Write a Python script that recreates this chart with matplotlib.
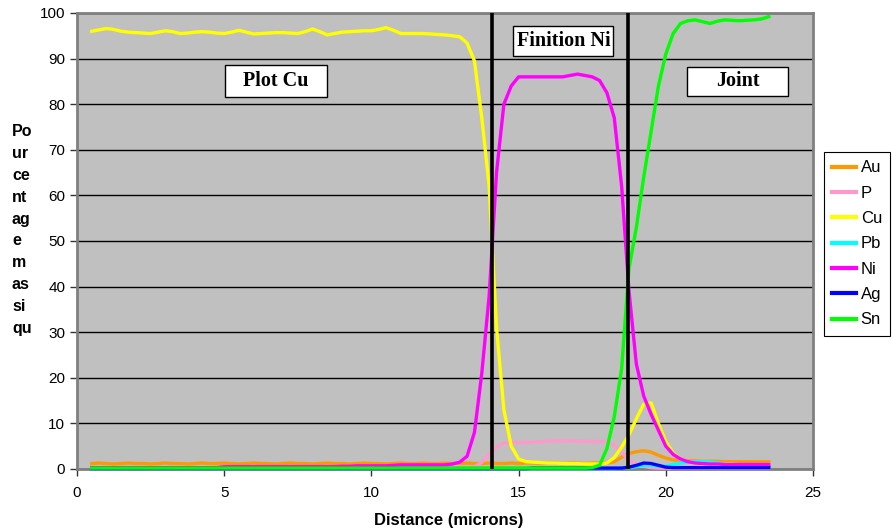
import matplotlib
matplotlib.use('Agg')
import matplotlib.pyplot as plt
from matplotlib.patches import Rectangle

plt.rcParams['font.family'] = ['Liberation Sans', 'DejaVu Sans']

# profil EDX le long de la coupe (distance en microns)
distance = [0.5, 0.75, 1.0, 1.25, 1.5, 1.75, 2.0, 2.25, 2.5, 2.75, 3.0, 3.25,
            3.5, 3.75, 4.0, 4.25, 4.5, 4.75, 5.0, 5.25, 5.5, 5.75, 6.0, 6.25,
            6.5, 6.75, 7.0, 7.25, 7.5, 7.75, 8.0, 8.25, 8.5, 8.75, 9.0, 9.25,
            9.5, 9.75, 10.0, 10.25, 10.5, 10.75, 11.0, 11.25, 11.5, 11.75, 12.0, 12.25,
            12.5, 12.75, 13.0, 13.25, 13.5, 13.75, 14.0, 14.25, 14.5, 14.75, 15.0, 15.25,
            15.5, 15.75, 16.0, 16.25, 16.5, 16.75, 17.0, 17.25, 17.5, 17.75, 18.0, 18.25,
            18.5, 18.75, 19.0, 19.25, 19.5, 19.75, 20.0, 20.25, 20.5, 20.75, 21.0, 21.25,
            21.5, 21.75, 22.0, 22.25, 22.5, 22.75, 23.0, 23.25, 23.5]

au = [1.2, 1.3, 1.2, 1.1, 1.2, 1.3, 1.2, 1.2, 1.1, 1.2, 1.3, 1.2,
      1.2, 1.1, 1.2, 1.3, 1.2, 1.2, 1.3, 1.2, 1.1, 1.2, 1.3, 1.2,
      1.2, 1.1, 1.2, 1.3, 1.2, 1.2, 1.1, 1.2, 1.3, 1.2, 1.2, 1.1,
      1.2, 1.3, 1.2, 1.2, 1.1, 1.2, 1.3, 1.2, 1.2, 1.3, 1.2, 1.2,
      1.3, 1.2, 1.2, 1.3, 1.2, 1.2, 1.3, 1.2, 1.2, 1.3, 1.2, 1.3,
      1.3, 1.2, 1.3, 1.3, 1.2, 1.3, 1.3, 1.2, 1.3, 1.3, 1.3, 1.6,
      2.6, 3.4, 3.8, 4.0, 3.7, 3.0, 2.4, 2.0, 1.9, 1.8, 1.8, 1.7,
      1.7, 1.7, 1.6, 1.6, 1.6, 1.6, 1.6, 1.6, 1.6]

p = [0.1, 0.1, 0.1, 0.1, 0.1, 0.1, 0.1, 0.1, 0.1, 0.1, 0.1, 0.1,
     0.1, 0.1, 0.1, 0.1, 0.1, 0.1, 0.1, 0.1, 0.1, 0.1, 0.1, 0.1,
     0.1, 0.1, 0.1, 0.1, 0.1, 0.1, 0.1, 0.1, 0.1, 0.1, 0.1, 0.1,
     0.1, 0.1, 0.1, 0.1, 0.1, 0.1, 0.1, 0.1, 0.1, 0.1, 0.1, 0.1,
     0.1, 0.1, 0.1, 0.2, 0.5, 1.5, 3.2, 4.8, 5.7, 5.8, 5.8, 5.8,
     5.9, 6.0, 6.1, 6.2, 6.2, 6.2, 6.1, 6.1, 6.0, 6.0, 6.0, 5.3,
     3.6, 2.0, 1.1, 0.6, 0.3, 0.2, 0.2, 0.2, 0.2, 0.2, 0.2, 0.2,
     0.2, 0.2, 0.2, 0.2, 0.2, 0.2, 0.2, 0.2, 0.2]

cu = [96.0, 96.3, 96.6, 96.4, 96.0, 95.8, 95.7, 95.6, 95.5, 95.8, 96.1, 95.9,
      95.5, 95.6, 95.8, 95.9, 95.8, 95.6, 95.5, 95.8, 96.2, 95.8, 95.4, 95.5,
      95.6, 95.7, 95.7, 95.6, 95.5, 95.9, 96.5, 95.9, 95.2, 95.5, 95.8, 95.9,
      96.0, 96.1, 96.1, 96.4, 96.8, 96.2, 95.5, 95.5, 95.5, 95.5, 95.4, 95.3,
      95.2, 95.0, 94.8, 93.4, 89.5, 77.0, 62.0, 31.0, 13.0, 5.0, 2.2, 1.6,
      1.5, 1.4, 1.3, 1.3, 1.2, 1.2, 1.2, 1.1, 1.1, 1.1, 1.3, 2.5,
      4.8, 7.5, 11.0, 14.2, 14.5, 10.0, 6.0, 3.5, 2.2, 1.6, 1.3, 1.2,
      1.2, 1.1, 1.1, 1.1, 1.0, 1.0, 1.0, 1.0, 1.0]

pb = [0.1, 0.1, 0.1, 0.1, 0.1, 0.1, 0.1, 0.1, 0.1, 0.1, 0.1, 0.1,
      0.1, 0.1, 0.1, 0.1, 0.1, 0.1, 0.1, 0.1, 0.1, 0.1, 0.1, 0.1,
      0.1, 0.1, 0.1, 0.1, 0.1, 0.1, 0.1, 0.1, 0.1, 0.1, 0.1, 0.1,
      0.1, 0.1, 0.1, 0.1, 0.1, 0.1, 0.1, 0.1, 0.1, 0.1, 0.1, 0.1,
      0.1, 0.1, 0.1, 0.1, 0.1, 0.1, 0.1, 0.1, 0.1, 0.1, 0.1, 0.1,
      0.1, 0.1, 0.1, 0.1, 0.1, 0.1, 0.1, 0.1, 0.1, 0.1, 0.1, 0.1,
      0.2, 0.3, 0.5, 0.8, 0.8, 0.6, 0.6, 1.0, 1.3, 1.5, 1.6, 1.6,
      1.5, 1.4, 1.0, 0.7, 0.5, 0.5, 0.5, 0.5, 0.5]

ni = [0.3, 0.3, 0.3, 0.3, 0.3, 0.3, 0.3, 0.3, 0.3, 0.3, 0.3, 0.3,
      0.3, 0.3, 0.3, 0.3, 0.3, 0.3, 0.5, 0.5, 0.5, 0.5, 0.5, 0.5,
      0.5, 0.5, 0.5, 0.5, 0.5, 0.5, 0.5, 0.5, 0.5, 0.5, 0.6, 0.6,
      0.7, 0.7, 0.7, 0.7, 0.7, 0.8, 0.9, 0.9, 0.9, 0.9, 0.9, 0.9,
      0.9, 1.1, 1.5, 2.8, 8.0, 21.0, 38.0, 65.0, 80.0, 84.0, 86.0, 86.0,
      86.0, 86.0, 86.0, 86.0, 86.0, 86.3, 86.6, 86.3, 86.0, 85.2, 82.5, 77.0,
      62.0, 39.0, 23.0, 16.0, 12.0, 8.5, 5.0, 3.2, 2.2, 1.6, 1.3, 1.2,
      1.1, 1.1, 1.0, 1.0, 1.0, 1.0, 1.0, 1.0, 1.0]

ag = [0.1, 0.1, 0.1, 0.1, 0.1, 0.1, 0.1, 0.1, 0.1, 0.1, 0.1, 0.1,
      0.1, 0.1, 0.1, 0.1, 0.1, 0.1, 0.1, 0.1, 0.1, 0.1, 0.1, 0.1,
      0.1, 0.1, 0.1, 0.1, 0.1, 0.1, 0.1, 0.1, 0.1, 0.1, 0.1, 0.1,
      0.1, 0.1, 0.1, 0.1, 0.1, 0.1, 0.1, 0.1, 0.1, 0.1, 0.1, 0.1,
      0.1, 0.1, 0.1, 0.1, 0.1, 0.1, 0.1, 0.1, 0.1, 0.1, 0.1, 0.1,
      0.2, 0.2, 0.2, 0.2, 0.2, 0.2, 0.2, 0.2, 0.2, 0.2, 0.2, 0.2,
      0.2, 0.4, 0.8, 1.3, 1.2, 0.8, 0.4, 0.3, 0.3, 0.3, 0.3, 0.3,
      0.3, 0.3, 0.3, 0.3, 0.3, 0.3, 0.3, 0.3, 0.3]

sn = [0.2, 0.2, 0.2, 0.2, 0.2, 0.2, 0.2, 0.2, 0.2, 0.2, 0.2, 0.2,
      0.2, 0.2, 0.2, 0.2, 0.2, 0.2, 0.2, 0.2, 0.2, 0.2, 0.2, 0.2,
      0.2, 0.2, 0.2, 0.2, 0.2, 0.2, 0.2, 0.2, 0.2, 0.2, 0.2, 0.2,
      0.2, 0.2, 0.2, 0.2, 0.2, 0.2, 0.2, 0.2, 0.2, 0.2, 0.2, 0.2,
      0.2, 0.2, 0.2, 0.2, 0.2, 0.2, 0.2, 0.2, 0.2, 0.2, 0.2, 0.2,
      0.2, 0.2, 0.2, 0.2, 0.2, 0.2, 0.2, 0.2, 0.3, 0.8, 4.5, 11.5,
      22.0, 44.0, 53.0, 64.0, 74.0, 84.0, 91.0, 95.5, 97.7, 98.3, 98.5, 98.1,
      97.7, 98.2, 98.5, 98.4, 98.3, 98.4, 98.5, 98.7, 99.2]

series = [('Au', au, '#FF9900'), ('P', p, '#FF99CC'), ('Cu', cu, '#FFFF00'),
          ('Pb', pb, '#00FFFF'), ('Ni', ni, '#FF00FF'), ('Ag', ag, '#0000FF'),
          ('Sn', sn, '#00FF00')]

# limites des zones
interfaces = [14.1, 18.7]

fig = plt.figure(figsize=(8.92, 5.31), dpi=100)
ax = fig.add_axes([77 / 892, 62 / 531, 736 / 892, 456 / 531])
ax.set_facecolor('#C0C0C0')

for name, values, color in series:
    ax.plot(distance, values, color=color, linewidth=2.4, label=name,
            clip_on=False, zorder=3)

for xi in interfaces:
    ax.axvline(xi, color='black', linewidth=2.6, zorder=5)

# zones annotées
boxes = [('Plot Cu', 5.03, 81.6, 3.46, 7.0, 'center'),
         ('Finition Ni', 14.81, 90.6, 3.40, 6.5, 'left'),
         ('Joint', 20.72, 81.8, 3.43, 6.4, 'center')]
for txt, bx, by, bw, bh, align in boxes:
    ax.add_patch(Rectangle((bx, by), bw, bh, facecolor='white', edgecolor='black',
                           linewidth=1, zorder=6, clip_on=False))
    tx = bx + bw / 2 if align == 'center' else bx + 0.13
    ax.text(tx, by + bh / 2, txt, ha=align, va='center', fontsize=14.5,
            fontweight='bold', family='Liberation Serif', zorder=7)

ax.set_xlim(0, 25)
ax.set_ylim(0, 100)
ax.set_xticks(range(0, 26, 5))
ax.set_yticks(range(0, 101, 10))
ax.yaxis.grid(True, color='black', linewidth=1)
ax.set_axisbelow(True)
ax.tick_params(labelsize=11, length=5, width=1, color='#333333')
ax.tick_params(axis='x', pad=7)
for side in ['left', 'bottom', 'top', 'right']:
    ax.spines[side].set_color('#808080')
    ax.spines[side].set_linewidth(2)
    ax.spines[side].set_zorder(2)

fig.text(449 / 892, 11 / 531, 'Distance (microns)', ha='center', va='center',
         fontsize=12, fontweight='bold')
fig.text(12 / 892, 1 - 230 / 531, 'Po\nur\nce\nnt\nag\ne\nm\nas\nsi\nqu',
         ha='left', va='center', ma='left', fontsize=11.5, fontweight='bold',
         linespacing=1.58)

leg = fig.legend(loc='upper left', bbox_to_anchor=(824 / 892, 1 - 152 / 531),
                 borderaxespad=0, fontsize=12, fancybox=False,
                 edgecolor='black', framealpha=1, handlelength=1.4,
                 handletextpad=0.3, labelspacing=0.62, borderpad=0.5)
leg.get_frame().set_linewidth(0.8)
for line in leg.get_lines():
    line.set_linewidth(3)

plt.savefig('out.png', dpi=100)
